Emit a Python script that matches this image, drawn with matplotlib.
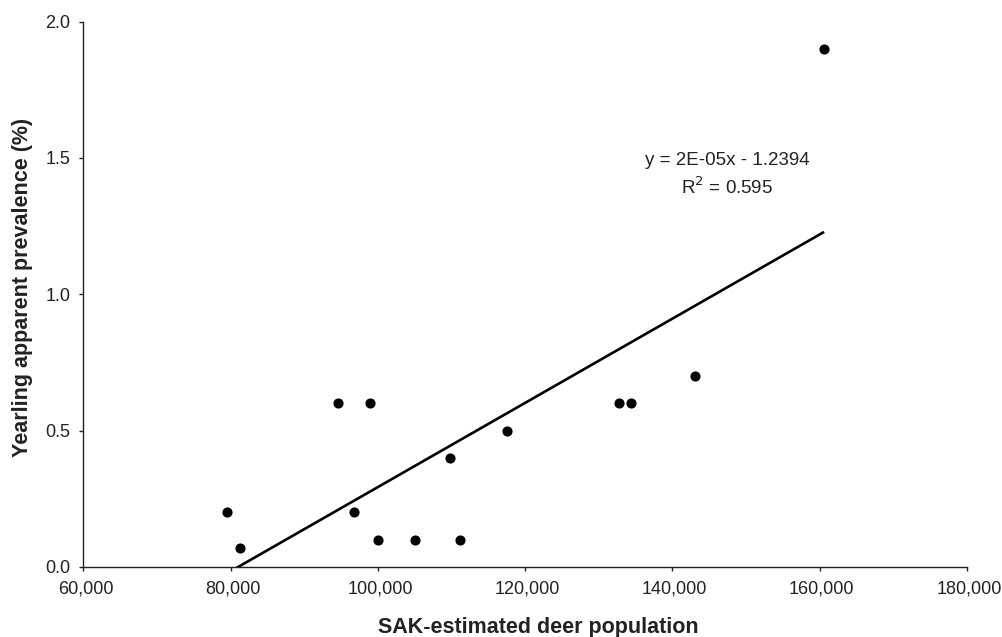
import numpy as np
import matplotlib.pyplot as plt
import matplotlib.transforms as mtransforms
from matplotlib.ticker import FuncFormatter

plt.rcParams['font.family'] = ['Liberation Sans', 'DejaVu Sans']

# SAK-estimated deer population vs yearling apparent prevalence (%)
deer_pop = [79500, 81200, 94600, 98900, 96700, 100000, 105000,
            109800, 111100, 117500, 132800, 134400, 143100, 160600]
prevalence = [0.2, 0.07, 0.6, 0.6, 0.2, 0.1, 0.1,
              0.4, 0.1, 0.5, 0.6, 0.6, 0.7, 1.9]

eq_text = 'y = 2E-05x - 1.2394'
r2_text = r'R$^2$ = 0.595'

# trendline as drawn in the picture
slope = 1.5435e-05
intercept = -1.2503

x = np.array(deer_pop)
y = np.array(prevalence)
xfit = np.array([x.min(), x.max()])
yfit = slope * xfit + intercept

fig = plt.figure(figsize=(10.02, 6.37), dpi=100)
ax = fig.add_axes([0.0833, 0.1099, 0.8817, 0.8563])

ax.plot(x, y, 'o', color='black', markersize=6.3, zorder=3)
ax.plot(xfit, yfit, color='black', linewidth=1.9, solid_capstyle='butt')

ax.set_xlim(60000, 180000)
ax.set_ylim(0, 2.0)
ax.set_xticks(np.arange(60000, 180001, 20000))
ax.set_yticks(np.arange(0, 2.01, 0.5))
ax.xaxis.set_major_formatter(FuncFormatter(lambda v, p: '{:,.0f}'.format(v)))
ax.yaxis.set_major_formatter(FuncFormatter(lambda v, p: '{:.1f}'.format(v)))

for s in ['top', 'right']:
    ax.spines[s].set_visible(False)
for s in ['left', 'bottom']:
    ax.spines[s].set_linewidth(1.0)
    ax.spines[s].set_color('#222222')

ax.tick_params(direction='out', length=3, width=1.0, labelsize=13,
               colors='#222222')
ax.tick_params(axis='x', pad=7)
ax.tick_params(axis='y', pad=6.5)

# x tick labels sit a little right of their ticks in the original
shift = mtransforms.ScaledTranslation(1.5 / 72, 0, fig.dpi_scale_trans)
for lbl in ax.get_xticklabels():
    lbl.set_transform(lbl.get_transform() + shift)

ax.set_xlabel('SAK-estimated deer population', fontsize=15.5, fontweight='bold',
              color='#222222', labelpad=14)
ax.set_ylabel('Yearling apparent prevalence (%)', fontsize=15.5, fontweight='bold',
              color='#222222', labelpad=8.5)
ax.xaxis.label.set_x(0.515)
ax.yaxis.label.set_y(0.513)

ax.text(147400, 1.492, eq_text, ha='center', va='center', fontsize=13.5,
        color='#222222')
ax.text(147400, 1.393, r2_text, ha='center', va='center', fontsize=13.5,
        color='#222222')

fig.savefig('out.png', dpi=100)
